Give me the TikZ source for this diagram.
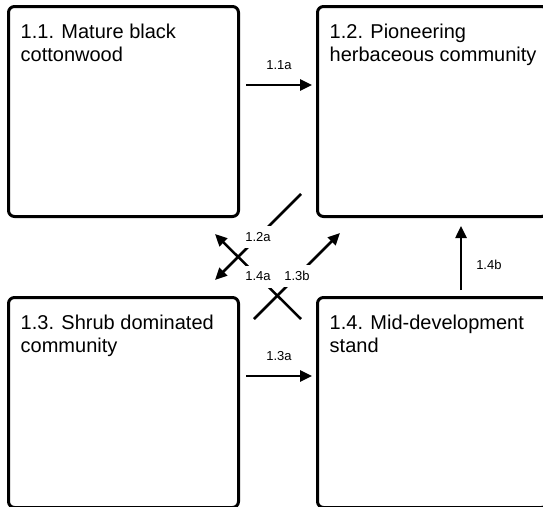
\documentclass[tikz,border=0pt]{standalone}
\usepackage{fontspec}
\setmainfont{Liberation Sans}
\usepackage{tikz}
\usetikzlibrary{arrows.meta,positioning,calc}
\tikzset{
  stbox/.style={draw,line width=3pt,rounded corners=6pt,minimum width=230pt,minimum height=210pt,anchor=north west,inner sep=0pt},
  sttext/.style={anchor=north west,align=left,inner sep=0pt,font=\fontsize{20}{23.5}\selectfont},
  arr/.style={line width=2.5pt,-{Triangle[length=12pt,width=11pt]}},
  lbl/.style={font=\fontsize{13}{15}\selectfont,inner sep=0pt},
  cutlbl/.style={lbl,fill=white,minimum width=30pt,minimum height=22pt}
}
\newcommand{\statebox}[3]{\node[stbox] (#1) at #2 {};
  \node[sttext] (#1t) at ([xshift=13.5pt,yshift=-18.5pt]#1.north west) {#3};}

\begin{document}
\begin{tikzpicture}[x=1pt,y=-1pt]
\clip (0,0) rectangle (543,506);
\statebox{b11}{(7,5)}{1.1. Mature black\\cottonwood}
\statebox{b12}{(316,5)}{1.2. Pioneering\\herbaceous community}
\statebox{b13}{(7,296)}{1.3. Shrub dominated\\community}
\statebox{b14}{(316,296)}{1.4. Mid-development\\stand}
\draw[arr] ([xshift=6pt,yshift=26.5pt]b11.east) -- ([xshift=-4pt,yshift=26.5pt]b12.west) node[lbl,midway,above=14pt] (l11a) {1.1a};
\draw[arr] ([xshift=6pt,yshift=26.5pt]b13.east) -- ([xshift=-4pt,yshift=26.5pt]b14.west) node[lbl,midway,above=14pt] (l13a) {1.3a};
\draw[arr] ([xshift=145pt,yshift=6pt]b14.north west) -- ([xshift=145pt,yshift=-8pt]b12.south west) node[lbl,midway,right=14pt,yshift=-6.5pt] (l14b) {1.4b};
\coordinate (s12a) at (301,194); \coordinate (e12a) at (215,280);
\coordinate (s14a) at (301,319); \coordinate (e14a) at (215,234);
\coordinate (s13b) at (254,319); \coordinate (e13b) at (340,233);
\draw[arr] (s12a) -- (e12a) node[cutlbl,midway] (l12a) {1.2a};
\draw[arr] (s14a) -- (e14a) node[cutlbl,midway] (l14a) {1.4a};
\draw[arr] (s13b) -- (e13b) node[cutlbl,midway] (l13b) {1.3b};
\end{tikzpicture}
\end{document}
